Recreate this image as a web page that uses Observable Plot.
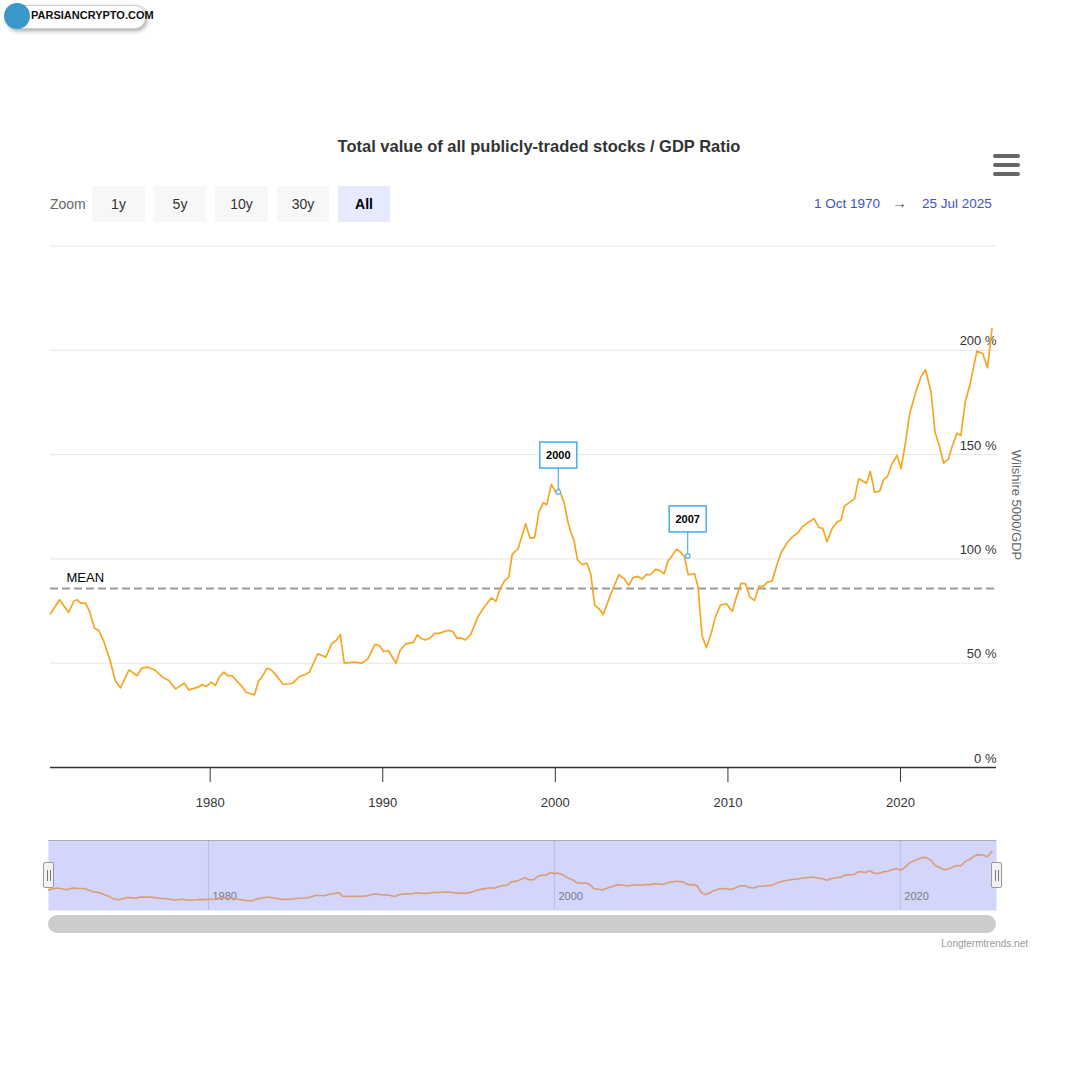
<!DOCTYPE html>
<html>
<head>
<meta charset="utf-8">
<script src="https://cdn.jsdelivr.net/npm/d3@7"></script>
<script src="https://cdn.jsdelivr.net/npm/@observablehq/plot@0.6"></script>
<style>
  html, body { margin: 0; padding: 0; background: #fff; }
  body { font-family: "Liberation Sans", Arial, Helvetica, sans-serif; }
  #page { position: relative; width: 1080px; height: 1080px; overflow: hidden; background: #fff; }
  .abs { position: absolute; }
  .btn { position: absolute; top: 186px; height: 36px; line-height: 36px; text-align: center; background: #f7f7f7; color: #333; font-size: 14px; border-radius: 2px; }
  .bar { position: absolute; left: 993px; width: 27px; height: 4px; background: #666; border-radius: 2px; }
  .handle { position: absolute; top: 862px; width: 11px; height: 26px; background: #f2f2f2; border: 1px solid #999; border-radius: 2px; box-sizing: border-box; }
  .handle::before, .handle::after { content: ""; position: absolute; top: 7px; width: 1px; height: 11px; background: #777; }
  .handle::before { left: 3px; } .handle::after { left: 6px; }
</style>
</head>
<body>
<div id="page">
  <!-- watermark logo -->
  <div class="abs" style="left:6px;top:5px;width:138px;height:22px;border-radius:11px;background:#fff;box-shadow:1px 2px 4px rgba(0,0,0,0.35);border:1px solid #ccc;"></div>
  <div class="abs" style="left:4px;top:3px;width:26px;height:26px;border-radius:13px;background:#3a97c9;"></div>
  <div class="abs" style="left:31px;top:9px;font-size:11px;font-weight:bold;color:#111;">PARSIANCRYPTO.COM</div>

  <div class="abs" style="left:0;width:1078px;top:137px;text-align:center;font-size:16.5px;font-weight:bold;color:#333;">Total value of all publicly-traded stocks / GDP Ratio</div>

  <div class="bar" style="top:154px"></div>
  <div class="bar" style="top:163px"></div>
  <div class="bar" style="top:172px"></div>

  <div class="abs" style="left:50px;top:196px;font-size:14px;color:#666;">Zoom</div>
  <div class="btn" style="left:92px;width:53px;">1y</div>
  <div class="btn" style="left:154px;width:52px;">5y</div>
  <div class="btn" style="left:215px;width:53px;">10y</div>
  <div class="btn" style="left:277px;width:52px;">30y</div>
  <div class="btn" style="left:338px;width:52px;background:#e6e9ff;font-weight:bold;color:#000;">All</div>

  <div class="abs" style="left:814px;top:196px;font-size:13.5px;color:#3f51c8;">1 Oct 1970</div>
  <div class="abs" style="left:892px;top:194px;font-size:15px;color:#555;">→</div>
  <div class="abs" style="left:922px;top:196px;font-size:13.5px;color:#3f51c8;">25 Jul 2025</div>

  <div id="main" class="abs" style="left:0;top:230px;"></div>
  <div class="abs" style="left:1016px;top:505px;width:0;height:0;">
    <div style="position:absolute;left:0;top:0;transform:translate(-50%,-50%) rotate(90deg);white-space:nowrap;font-size:13px;color:#666;">Wilshire 5000/GDP</div>
  </div>

  <div id="nav" class="abs" style="left:0;top:830px;"></div>
  <div class="handle" style="left:43px;"></div>
  <div class="handle" style="left:991px;"></div>
  <div class="abs" style="left:48px;top:915px;width:948px;height:18px;border-radius:9px;background:#cccccc;"></div>
  <div class="abs" style="left:900px;width:128px;top:938px;text-align:right;font-size:10px;color:#999;">Longtermtrends.net</div>
</div>

<script>
// ---- data ----
const years = [
  1970.75, 1971.27, 1971.8, 1972.1, 1972.29, 1972.5, 1972.78, 1973.0, 1973.3, 1973.54, 1973.8,
  1974.2, 1974.5, 1974.8, 1975.3, 1975.76, 1976.06, 1976.4, 1976.78, 1977.3, 1977.6, 1978.0,
  1978.5, 1978.77, 1979.3, 1979.54, 1979.77, 1980.06, 1980.3, 1980.54, 1980.8, 1981.0, 1981.27,
  1981.6, 1981.8, 1982.08, 1982.56, 1982.8, 1983.0, 1983.28, 1983.5, 1983.8, 1984.24, 1984.78,
  1985.17, 1985.5, 1985.75, 1986.23, 1986.7, 1987.04, 1987.3, 1987.54, 1987.77, 1988.35, 1988.78,
  1989.13, 1989.55, 1989.8, 1990.05, 1990.32, 1990.77, 1991.0, 1991.34, 1991.78, 1992.0, 1992.25,
  1992.5, 1992.75, 1993.0, 1993.27, 1993.5, 1993.79, 1994.04, 1994.3, 1994.53, 1994.8, 1995.1,
  1995.5, 1995.9, 1996.3, 1996.55, 1996.8, 1997.07, 1997.3, 1997.5, 1997.84, 1998.28, 1998.53,
  1998.8, 1999.05, 1999.3, 1999.5, 1999.77, 2000.05, 2000.2, 2000.5, 2000.73, 2000.93, 2001.08,
  2001.28, 2001.57, 2001.82, 2002.05, 2002.28, 2002.53, 2002.78, 2003.0, 2003.3, 2003.68, 2004.0,
  2004.26, 2004.5, 2004.78, 2005.03, 2005.29, 2005.52, 2005.8, 2006.05, 2006.3, 2006.52, 2006.7,
  2007.03, 2007.26, 2007.48, 2007.7, 2008.07, 2008.27, 2008.5, 2008.75, 2009.02, 2009.27, 2009.57,
  2009.92, 2010.25, 2010.5, 2010.77, 2011.02, 2011.27, 2011.54, 2011.79, 2012.04, 2012.3, 2012.56,
  2012.8, 2013.07, 2013.46, 2013.77, 2014.04, 2014.3, 2014.55, 2014.83, 2015.0, 2015.27, 2015.5,
  2015.74, 2016.03, 2016.32, 2016.55, 2016.75, 2017.06, 2017.33, 2017.58, 2018.03, 2018.25, 2018.5,
  2018.8, 2019.02, 2019.25, 2019.5, 2019.8, 2020.03, 2020.28, 2020.53, 2020.92, 2021.2, 2021.45,
  2021.77, 2022.0, 2022.27, 2022.5, 2022.78, 2022.98, 2023.27, 2023.5, 2023.75, 2024.04, 2024.43,
  2024.77, 2025.04, 2025.3, 2025.562
];
const ratio = [
  73.7, 80.4, 74.3, 79.8, 80.4, 78.8, 78.8, 75.0, 66.8, 65.7, 61.2,
  51.3, 41.7, 38.2, 46.8, 44.0, 47.8, 48.1, 46.8, 43.0, 41.7, 37.7,
  40.4, 37.2, 38.5, 39.8, 38.8, 40.9, 39.3, 43.6, 45.7, 44.0, 44.0,
  40.9, 39.3, 36.1, 34.8, 41.4, 43.3, 47.5, 47.1, 44.4, 39.8, 40.4,
  43.6, 44.6, 45.7, 54.5, 52.9, 59.3, 60.9, 63.8, 50.0, 50.5, 50.0,
  52.1, 59.0, 58.5, 55.6, 56.1, 50.0, 56.1, 59.3, 60.0, 63.6, 61.7,
  61.2, 62.1, 64.3, 64.3, 65.0, 65.7, 65.3, 62.0, 62.1, 61.2, 63.8,
  72.1, 77.2, 81.3, 79.6, 85.7, 89.7, 91.3, 102.2, 104.9, 116.9, 110.0,
  110.2, 122.5, 126.9, 126.0, 135.7, 131.8, 133.6, 127.2, 117.7, 112.0,
  108.9, 99.6, 97.2, 98.0, 92.8, 77.7, 76.1, 73.4, 78.5, 84.9, 92.4,
  90.4, 87.3, 91.0, 91.6, 90.4, 92.6, 92.4, 95.0, 94.5, 92.8, 98.9,
  100.8, 104.7, 103.2, 101.2, 92.4, 92.8, 86.5, 63.3, 57.4, 64.0, 72.1,
  77.9, 78.4, 74.8, 82.0, 88.4, 88.0, 81.7, 80.1, 86.8, 86.8, 88.9,
  89.4, 96.1, 102.8, 108.1, 110.8, 112.4, 115.3, 116.9, 118.5, 119.2, 115.0,
  114.6, 108.1, 114.4, 117.7, 118.5, 125.3, 127.2, 128.8, 138.4, 136.3, 142.0,
  132.0, 132.5, 138.0, 139.6, 145.6, 149.6, 143.3, 155.2, 169.6, 181.1, 187.5,
  190.7, 180.0, 160.8, 153.5, 145.9, 148.0, 153.5, 160.3, 159.2, 175.2, 184.0,
  199.7, 198.3, 191.7, 210.4
];
const meanValue = 85.8;
const annoYears = [2000.2, 2007.7];
const annoValues = [131.8, 101.2];
const annoLabels = ["2000", "2007"];
const yTicks = [0, 50, 100, 150, 200];
const yGrid = [0, 50, 100, 150, 200, 250];
const xTickYears = [1980, 1990, 2000, 2010, 2020];
const navTickYears = [1980, 2000, 2020];

// ---- helpers ----
function dec(y) {
  const yr = Math.floor(y);
  const s = Date.UTC(yr, 0, 1), e = Date.UTC(yr + 1, 0, 1);
  return new Date(s + (y - yr) * (e - s));
}
const data = years.map((y, i) => ({date: dec(y), value: ratio[i]}));
const annos = annoYears.map((y, i) => ({date: dec(y), value: annoValues[i], label: annoLabels[i]}));
const xDomain = [new Date(Date.UTC(1970, 9, 1)), new Date(Date.UTC(2025, 6, 25))];
const xTicks = xTickYears.map(y => new Date(Date.UTC(y, 0, 1)));
const navTicks = navTickYears.map(y => new Date(Date.UTC(y, 0, 1)));
const fontFamily = '"Liberation Sans", Arial, Helvetica, sans-serif';

// custom annotation mark (boxes + connectors), positioned via Plot's scales
function annotationMark(index, scales) {
  const g = d3.create("svg:g");
  for (const a of annos) {
    const px = scales.x(a.date), py = scales.y(a.value);
    const bw = 37, bh = 26, gap = 24;
    g.append("line").attr("x1", px).attr("y1", py).attr("x2", px).attr("y2", py - gap)
      .attr("stroke", "#4fb3ea").attr("stroke-width", 1.2);
    g.append("rect").attr("x", px - bw / 2).attr("y", py - gap - bh).attr("width", bw).attr("height", bh)
      .attr("fill", "#fff").attr("stroke", "#4fb3ea").attr("stroke-width", 1.6);
    g.append("text").attr("x", px).attr("y", py - gap - bh / 2).attr("text-anchor", "middle")
      .attr("dominant-baseline", "central").attr("font-size", 11).attr("font-weight", "bold")
      .attr("fill", "#000").attr("font-family", fontFamily).text(a.label);
    g.append("circle").attr("cx", px).attr("cy", py).attr("r", 2.3)
      .attr("fill", "#fff").attr("stroke", "#4fb3ea").attr("stroke-width", 1.2);
  }
  return g.node();
}

const main = Plot.plot({
  width: 1080,
  height: 600,
  marginLeft: 50,
  marginRight: 84,
  marginTop: 15.5,
  marginBottom: 63,
  style: {fontFamily, color: "#333", background: "transparent", overflow: "visible"},
  x: {type: "utc", domain: xDomain},
  y: {domain: [0, 250]},
  marks: [
    Plot.ruleY(yGrid, {stroke: "#e6e6e6", strokeWidth: 1}),
    Plot.axisY({anchor: "right", ticks: yTicks, tickFormat: d => `${d} %`, tickSize: 0, tickPadding: 0,
      textAnchor: "end", dy: -9, fontSize: 13, label: null}),
    Plot.axisX({ticks: xTicks, tickFormat: d3.utcFormat("%Y"), tickSize: 15, tickPadding: 15,
      fontSize: 13, label: null, stroke: "#333"}),
    Plot.ruleY([meanValue], {stroke: "#999", strokeWidth: 2, strokeDasharray: "8,4"}),
    Plot.text([meanValue], {x: () => xDomain[0], y: d => d, text: () => "MEAN", textAnchor: "start",
      dx: 16, dy: -11, fontSize: 13, fill: "#000"}),
    Plot.line(data, {x: "date", y: "value", stroke: "#f5a623", strokeWidth: 1.7}),
    Plot.ruleY([0], {stroke: "#333", strokeWidth: 1.5}),
    annotationMark
  ]
});
document.getElementById("main").appendChild(main);

const nav = Plot.plot({
  width: 1080,
  height: 120,
  marginLeft: 48,
  marginRight: 84,
  marginTop: 10,
  marginBottom: 40,
  style: {fontFamily, background: "transparent"},
  x: {type: "utc", domain: xDomain, axis: null},
  y: {domain: [0, 250], axis: null},
  marks: [
    Plot.frame({fill: "#d3d6fa", stroke: null}),
    Plot.ruleX(navTicks, {stroke: "#b8bce8", strokeWidth: 1}),
    Plot.text(navTicks, {x: d => d, frameAnchor: "bottom", text: d => d3.utcFormat("%Y")(d),
      textAnchor: "start", dx: 4, dy: -11, fontSize: 11, fill: "#7a7a8a"}),
    Plot.line(data, {x: "date", y: "value", stroke: "#d79e78", strokeWidth: 1.6}),
    Plot.ruleY([250], {stroke: "#aaaab8", strokeWidth: 1})
  ]
});
document.getElementById("nav").appendChild(nav);
</script>
</body>
</html>
